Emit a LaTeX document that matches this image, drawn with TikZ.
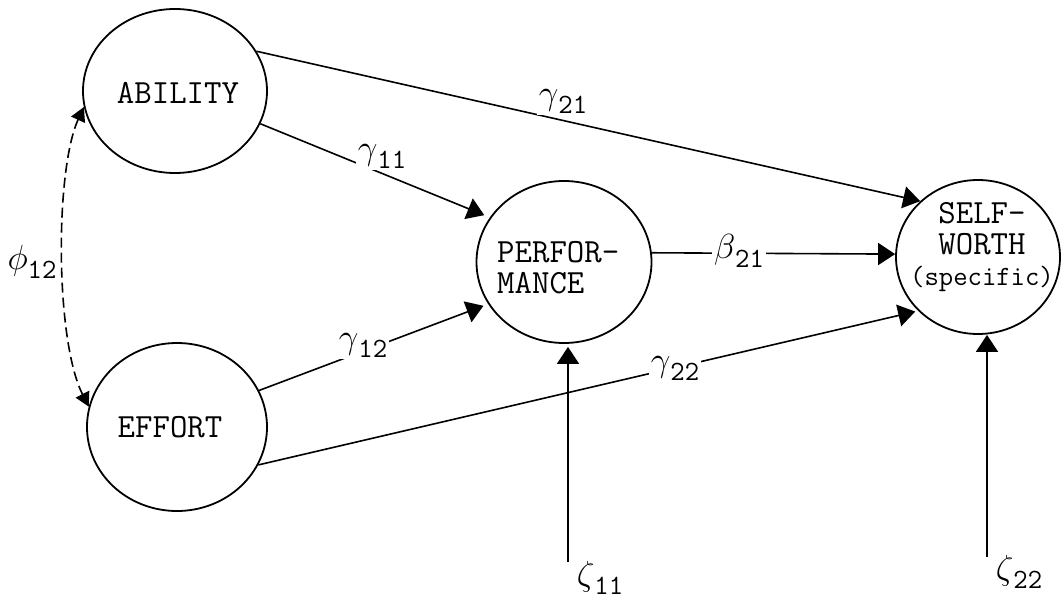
\RequirePackage{fix-cm}
\documentclass[tikz,border=0pt]{standalone}
\usetikzlibrary{arrows.meta,shapes.geometric}
\tikzset{
  lat/.style={ellipse, draw, line width=1.8bp, inner sep=0pt},
  txt/.style={inner sep=0pt, font=\fontsize{34}{31}\selectfont\ttfamily},
  conn/.style={line width=1.6bp, -{Triangle[length=17bp,width=22bp]}},
  coef/.style={fill=white, inner sep=2bp},
  free/.style={inner sep=1bp},
  corr/.style={line width=1.6bp, dash pattern=on 10bp off 5bp,
    {Triangle[length=14bp,width=15bp]}-{Triangle[length=14bp,width=15bp]}},
}
\newcommand{\coefl}[2]{{\fontsize{35}{35}\selectfont$#1$}\raisebox{-9bp}{\fontsize{28}{28}\selectfont\ttfamily #2}}
\begin{document}
\begin{tikzpicture}[x=1bp,y=-1bp]
\useasboundingbox (0,0) rectangle (1063,603);
% latent variables
\node[lat, minimum width=184bp, minimum height=164bp] (ab) at (175,91) {};
\node[lat, minimum width=180bp, minimum height=168bp] (ef) at (177,427) {};
\node[lat, minimum width=175bp, minimum height=162bp] (pf) at (564,262) {};
\node[lat, minimum width=164bp, minimum height=154bp] (sw) at (978,257) {};
\node[txt] (abt) at (178,93) {ABILITY};
\node[txt] (eft) at (170,427) {EFFORT};
\node[txt, align=left, anchor=west] (pft) at (497,268) {PERFOR-\\MANCE};
\node[txt, align=center] (swt) at (982,247) {SELF-\\WORTH\\{\fontsize{28}{31}\selectfont(specific)}};
% paths
\draw[conn] (ab.26) -- (sw.136);
\draw[conn, shorten >=6bp] (ab.-21) -- (pf.149);
\draw[conn, shorten >=5bp] (ef.24) -- (pf.209);
\draw[conn, shorten >=3bp] (ef.-25) -- (sw.222);
\draw[conn] (pf.6) -- (sw.178);
\draw[corr] (ab.190) .. controls (55,170) and (55,340) .. (ef.167);
\coordinate (z11) at (568,562);
\coordinate (z22) at (987,557);
\draw[conn, shorten >=3bp] (z11) -- (z11 |- pf.south);
\draw[conn] (z22) -- (z22 |- sw.south);
% coefficients
\node[coef] (g21) at (563,101) {\coefl{\gamma}{21}};
\node[coef] (g11) at (382,156) {\coefl{\gamma}{11}};
\node[coef] (g12) at (363,345) {\coefl{\gamma}{12}};
\node[coef] (g22) at (675,368) {\coefl{\gamma}{22}};
\node[coef] (b21) at (739,251) {\coefl{\beta}{21}};
\node[free] (p12) at (32,262) {\coefl{\phi}{12}};
\node[free] (z11l) at (600,578) {\coefl{\zeta}{11}};
\node[free] (z22l) at (1019,572) {\coefl{\zeta}{22}};
\end{tikzpicture}
\end{document}
